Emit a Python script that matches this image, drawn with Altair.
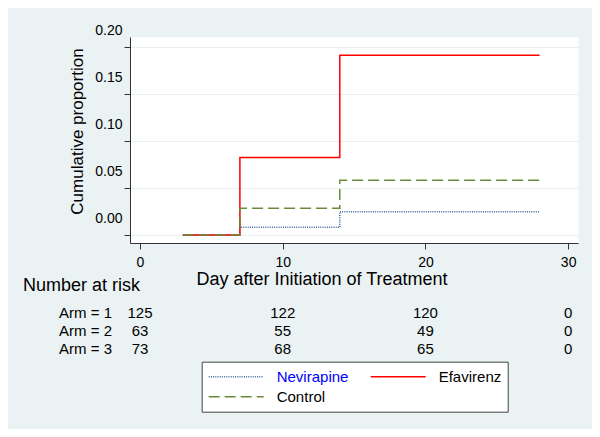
import altair as alt
import pandas as pd

FONT = "Liberation Sans"

# ---- data ----
series = ["Nevirapine", "Efavirenz", "Control"]
legend_order = ["Nevirapine", "Control", "Efavirenz"]  # legend fills column by column
times = [3, 7, 14, 28]
nevirapine = [0.0, 0.0082, 0.0248, 0.0248]
efavirenz = [0.0, 0.0826, 0.1916, 0.1916]
control = [0.0, 0.0285, 0.0583, 0.0583]

colors = {"Nevirapine": "#3f679c", "Efavirenz": "#ff0000", "Control": "#6b8a3a"}
dashes = {"Nevirapine": [1, 1.2], "Efavirenz": [1, 0], "Control": [11, 5]}

x_ticks = [0, 10, 20, 30]
y_ticks = [0.0, 0.05, 0.10, 0.15, 0.20]

arms = ["Arm = 1", "Arm = 2", "Arm = 3"]
risk_times = [0, 10, 20, 30]
risk_arm1 = [125, 122, 120, 0]
risk_arm2 = [63, 55, 49, 0]
risk_arm3 = [73, 68, 65, 0]

# ---- tables ----
rows = []
for s, vals in zip(series, [nevirapine, efavirenz, control]):
    for t, v in zip(times, vals):
        rows.append({"series": s, "day": t, "prop": v})
df = pd.DataFrame(rows)

risk_rows = []
for i, vals in enumerate([risk_arm1, risk_arm2, risk_arm3], start=1):
    for t, v in zip(risk_times, vals):
        risk_rows.append({"day": t, "row": i, "n": str(v)})
risk_df = pd.DataFrame(risk_rows)
arm_df = pd.DataFrame({"row": [1, 2, 3], "arm": arms})
head_df = pd.DataFrame({"t": ["Number at risk"]})

x_scale = alt.Scale(domain=[-0.7, 30.69], nice=False, zero=False)

leg = alt.Legend(
    title=None, orient="none", legendX=71.7, legendY=324.7, columns=2,
    symbolType="stroke", symbolSize=3025, symbolStrokeWidth=1.5,
    clipHeight=18, labelOffset=12, columnPadding=21, rowPadding=2, padding=6,
    strokeColor="#444444", fillColor="white",
    labelFont=FONT, labelFontSize=15, labelLimit=0,
    labelColor=alt.ExprRef("datum.label == 'Nevirapine' ? '#0000ff' : '#000000'"),
)

lines = alt.Chart(df).mark_line(interpolate="step-after", strokeWidth=1.5).encode(
    x=alt.X("day:Q", scale=x_scale,
            axis=alt.Axis(values=x_ticks, grid=False, labelFlush=False, labelPadding=6,
                          title="Day after Initiation of Treatment", titleFontSize=18,
                          titleX=191.5, titleY=41, titleAlign="center",
                          titleBaseline="alphabetic")),
    y=alt.Y("prop:Q", scale=alt.Scale(domain=[-0.0085, 0.2111], nice=False, zero=False),
            axis=alt.Axis(values=y_ticks, format=".2f", grid=True, gridColor="#e8f0f2",
                          labelOffset=-16.5, labelPadding=2, labelBaseline="middle",
                          title="Cumulative proportion", titleFontSize=17,
                          titleX=-48, titleY=94, titleAngle=270, titleAlign="center",
                          titleBaseline="alphabetic")),
    color=alt.Color("series:N",
                    scale=alt.Scale(domain=legend_order, range=[colors[s] for s in legend_order]),
                    legend=leg),
    strokeDash=alt.StrokeDash("series:N",
                              scale=alt.Scale(domain=legend_order, range=[dashes[s] for s in legend_order]),
                              legend=leg),
)

row_scale = alt.Scale(domain=[1, 3], range=[276, 311.5])

numbers = alt.Chart(risk_df).mark_text(font=FONT, fontSize=15, baseline="middle",
                                       align="center", color="black").encode(
    x=alt.X("day:Q", scale=x_scale),
    y=alt.Y("row:Q", scale=row_scale, axis=None),
    text="n:N",
)

arm_text = alt.Chart(arm_df).mark_text(font=FONT, fontSize=15, baseline="middle",
                                       align="right", color="black").encode(
    x=alt.value(-18),
    y=alt.Y("row:Q", scale=row_scale, axis=None),
    text="arm:N",
)

header = alt.Chart(head_df).mark_text(font=FONT, fontSize=18, baseline="alphabetic",
                                      align="left", color="black").encode(
    x=alt.value(-107),
    y=alt.value(254),
    text="t:N",
)

chart = alt.layer(lines, numbers, arm_text, header).resolve_scale(
    y="independent"
).properties(
    width=448, height=206,
    autosize=alt.AutoSizeParams(type="none"),
    padding={"left": 122, "top": 29, "right": 14, "bottom": 186},
    background="#eaf2f3",
).configure_view(
    fill="white", stroke="transparent"
).configure_axis(
    labelFont=FONT, titleFont=FONT, labelFontSize=14, labelColor="black",
    titleColor="black", titleFontWeight="normal", domainColor="#333333",
    tickColor="#333333", tickSize=6,
)

chart.save("out.html", embed_options={"renderer": "svg", "actions": False})
